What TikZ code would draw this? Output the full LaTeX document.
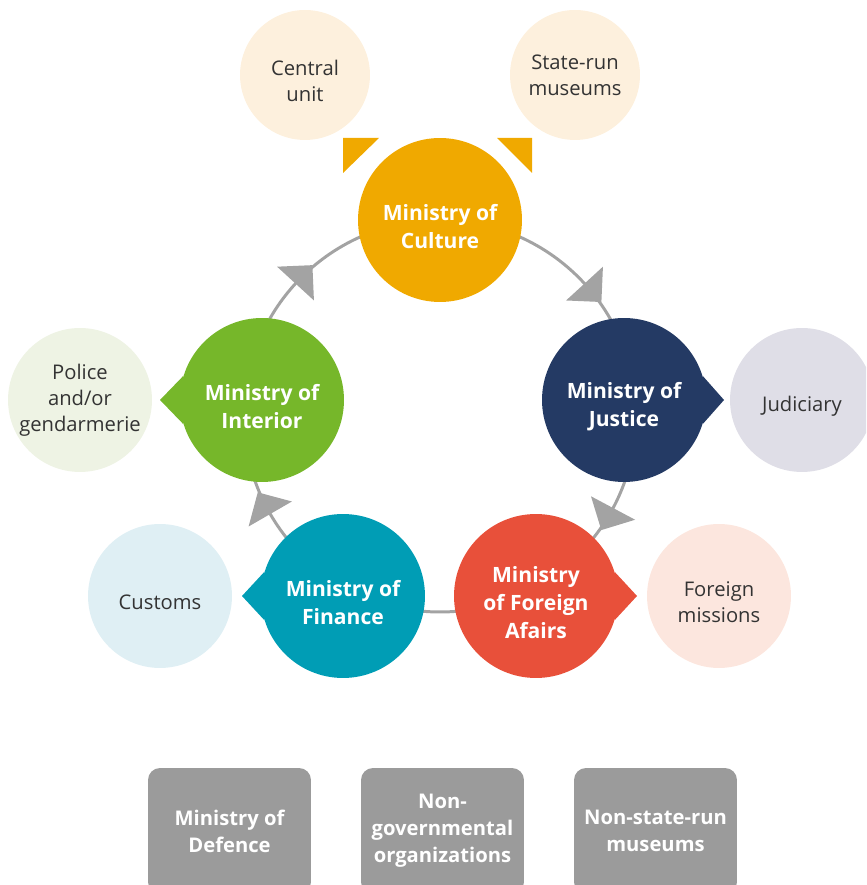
\documentclass[tikz,border=0pt]{standalone}
\usepackage{fontspec}
\setmainfont{Open Sans}
\definecolor{culture}{HTML}{F0A900}
\definecolor{justice}{HTML}{243A64}
\definecolor{interior}{HTML}{76B72A}
\definecolor{finance}{HTML}{009DB5}
\definecolor{foreign}{HTML}{E8503A}
\definecolor{culturelight}{HTML}{FDF0DD}
\definecolor{justicelight}{HTML}{DFDEE7}
\definecolor{interiorlight}{HTML}{EEF3E4}
\definecolor{financelight}{HTML}{DFEFF4}
\definecolor{foreignlight}{HTML}{FCE6DE}
\definecolor{boxgrey}{HTML}{9B9B9B}
\definecolor{ringgrey}{HTML}{A3A3A3}
\definecolor{textgrey}{HTML}{333333}
\newcommand{\topgap}{\rule{0pt}{17pt}}
\newcommand{\unitgap}{\rule{0pt}{15.5pt}}
\begin{document}
\begin{tikzpicture}[x=0.02cm, y=0.02cm,
    ministry/.style={circle, fill=#1, minimum size=3.28cm, inner sep=0pt,
      text=white, align=center, font=\bfseries\fontsize{12}{16}\selectfont},
    unit/.style={circle, fill=#1, minimum size=2.88cm, inner sep=0pt,
      text=textgrey, align=center, font=\fontsize{11.5}{14.8}\selectfont},
    other/.style={rectangle, rounded corners=0.24cm, fill=boxgrey,
      minimum width=3.26cm, minimum height=2.52cm, text=white, align=center,
      font=\bfseries\fontsize{11.5}{15.4}\selectfont}]
    \useasboundingbox (0, 0) rectangle (866, 885);
    \clip (0, 0) rectangle (866, 885);
    \coordinate (hub) at (440, 469);
    \draw[ringgrey, line width=1.7pt] (hub) circle[radius=196];
    \foreach \a in {137.5, 42.5, -28, 210}
      \fill[ringgrey] ([shift={(\a:221)}]hub) -- ++(\a-135:35.36)
                      -- ++(\a+135:35.36) -- cycle;
    \node[ministry=culture] (cul) at (440, 665) {\topgap Ministry of\\Culture};
    \node[ministry=justice] (jus) at (624, 485) {\topgap Ministry of\\Justice};
    \node[ministry=foreign] (for) at (536, 289) {\topgap Ministry\\of Foreign\\Afairs};
    \node[ministry=finance] (fin) at (343, 289) {\topgap Ministry of\\Finance};
    \node[ministry=interior] (int) at (262, 485) {\topgap Ministry of\\Interior};
    \fill[justice] (jus.17) -- ([shift={(0:100)}]jus.center) -- (jus.-17) -- cycle;
    \fill[foreign] (for.17) -- ([shift={(0:101)}]for.center) -- (for.-17) -- cycle;
    \fill[finance] (fin.163) -- ([shift={(180:101)}]fin.center) -- (fin.197) -- cycle;
    \fill[interior] (int.163) -- ([shift={(180:102)}]int.center) -- (int.197) -- cycle;
    \fill[culture] (343, 747) -- (379, 747) -- (343, 712) -- cycle;
    \fill[culture] (497, 747) -- (532, 747) -- (532, 712) -- cycle;
    \node[unit=culturelight, minimum size=2.6cm] (central) at (305, 810) {\unitgap Central\\unit};
    \node[unit=culturelight, minimum size=2.6cm] (staterun) at (575, 810) {State-run\\museums};
    \node[unit=justicelight] (judiciary) at (802, 485) {\unitgap Judiciary};
    \node[unit=foreignlight] (missions) at (719, 289) {\unitgap Foreign\\missions};
    \node[unit=financelight] (customs) at (160, 289) {\unitgap Customs};
    \node[unit=interiorlight] (police) at (80, 485) {Police\\and/or\\gendarmerie};
    \node[other] (defence) at (229.5, 54) {Ministry of\\Defence};
    \node[other] (ngo) at (442.5, 54) {Non-\\governmental\\organizations};
    \node[other] (nonstate) at (655.5, 54) {Non-state-run\\museums};
\end{tikzpicture}
\end{document}
